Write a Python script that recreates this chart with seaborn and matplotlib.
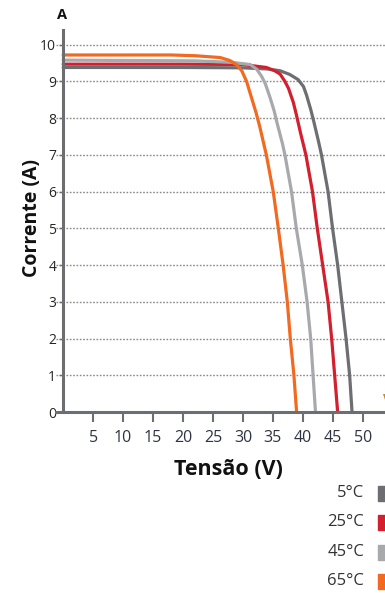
import pandas as pd
import seaborn as sns
import matplotlib.pyplot as plt
from matplotlib.patches import Rectangle

# I-V curves (voltage V, current A)
v_5 = [0, 20, 30, 34, 36.2, 37.8, 39.2, 40.1, 40.6, 41.3, 41.8, 42.6, 43.1, 44.2, 44.95,
       45.8, 46.5, 47.2, 47.8, 48.2]
i_5 = [9.38, 9.38, 9.37, 9.34, 9.29, 9.19, 9.05, 8.86, 8.63, 8.24, 7.92, 7.37, 7.0, 6.0, 5.0,
       4.0, 3.0, 2.0, 1.0, 0.0]
v_25 = [0, 20, 30, 33.9, 35.3, 36.2, 37.0, 37.6, 38.4, 38.9, 39.6, 40.5, 41.6, 42.4, 43.3,
        44.2, 44.8, 45.3, 45.8]
i_25 = [9.47, 9.47, 9.46, 9.38, 9.29, 9.2, 9.0, 8.81, 8.43, 8.1, 7.6, 7.0, 6.0, 5.0, 4.0,
        3.0, 2.0, 1.0, 0.0]
v_45 = [0, 22, 28, 31.2, 32.3, 33.1, 33.7, 34.5, 35.2, 35.7, 36.6, 37.0, 38.1, 38.9, 39.9,
        40.7, 41.3, 41.7, 42.1]
i_45 = [9.58, 9.56, 9.52, 9.46, 9.33, 9.14, 8.95, 8.57, 8.2, 7.86, 7.3, 7.0, 6.0, 5.0, 4.0,
        3.0, 2.0, 1.0, 0.0]
v_65 = [0, 18, 22, 26.2, 27.8, 28.9, 29.8, 30.6, 31.4, 32.2, 32.8, 33.9, 35.05, 35.9, 36.7,
        37.4, 37.9, 38.5, 38.95]
i_65 = [9.72, 9.72, 9.7, 9.65, 9.57, 9.46, 9.29, 9.0, 8.57, 8.14, 7.77, 7.0, 6.0, 5.0, 4.0,
        3.0, 2.0, 1.0, 0.0]

temps = ['5°C', '25°C', '45°C', '65°C']
colors = ['#6d6e71', '#d2202f', '#a7a9ac', '#f26a21']
x_ticks = [5, 10, 15, 20, 25, 30, 35, 40, 45, 50]
y_ticks = [0, 1, 2, 3, 4, 5, 6, 7, 8, 9, 10]

curves = [(v_5, i_5), (v_25, i_25), (v_45, i_45), (v_65, i_65)]
df = pd.concat([pd.DataFrame({'V': v, 'I': i, 'T': t}) for (v, i), t in zip(curves, temps)],
               ignore_index=True)

sns.set_style('white')
plt.rcParams['font.family'] = ['Open Sans', 'DejaVu Sans']

fig = plt.figure(figsize=(3.85, 5.93), dpi=100)
ax = fig.add_axes([56 / 385, 1 - 412 / 593, 1 - 56 / 385, (412 - 30) / 593])

sns.lineplot(data=df, x='V', y='I', hue='T', palette=dict(zip(temps, colors)),
             sort=False, estimator=None, linewidth=2.3, legend=False, ax=ax)
for line in ax.lines:
    line.set_solid_joinstyle('round')

ax.set_xlim(-1.2, 53.7)
ax.set_ylim(0, 10.4)
ax.set_xticks(x_ticks)
ax.set_yticks(y_ticks)
ax.set_yticklabels([str(y) for y in y_ticks], fontsize=11.5, color='#2e3445')
ax.set_xticklabels([str(x) for x in x_ticks], fontsize=11.5, color='#2e3445')
ax.tick_params(axis='x', direction='out', length=7, width=1.5, color='#6d6e71', pad=6, bottom=True)
ax.tick_params(axis='y', direction='out', length=3, width=1, color='#6d6e71', pad=2, left=True)

ax.grid(axis='y', linestyle=(0, (1.2, 1.2)), color='#8a8a8a', linewidth=1)
ax.grid(axis='x', visible=False)
ax.set_axisbelow(True)

for s in ['top', 'right']:
    ax.spines[s].set_visible(False)
ax.spines['left'].set_position(('data', 0))
for s in ['left', 'bottom']:
    ax.spines[s].set_color('#6d6e71')
    ax.spines[s].set_linewidth(2.2)

ax.set_xlabel('Tensão (V)', fontsize=15.5, fontweight='bold', color='#111111')
ax.set_ylabel('Corrente (A)', fontsize=14, fontweight='bold', color='#111111')
ax.xaxis.set_label_coords((228 - 56) / 329, -(459 - 412) / 382)
ax.yaxis.set_label_coords((42 - 56) / 329, (412 - 218) / 382)

ax.text((62 - 56) / 329, 1 + (30 - 15) / 382, 'A', transform=ax.transAxes,
        fontsize=10.5, fontweight='bold', ha='center', va='center', color='#111111')
fig.text(383 / 385, 1 - 400 / 593, 'V', fontsize=10, fontweight='bold', color='#c98a2a',
         ha='left', va='center')

# legend: labels with colour swatches at the right edge
legend_y = [493, 522, 552, 581]
for t, c, y in zip(temps, colors, legend_y):
    fig.text(364 / 385, 1 - y / 593, t, fontsize=12, ha='right', va='center', color='#333333')
    fig.add_artist(Rectangle((378 / 385, 1 - (y + 8) / 593), 12 / 385, 15 / 593,
                             transform=fig.transFigure, color=c, clip_on=False))

fig.savefig('out.png', dpi=100)
